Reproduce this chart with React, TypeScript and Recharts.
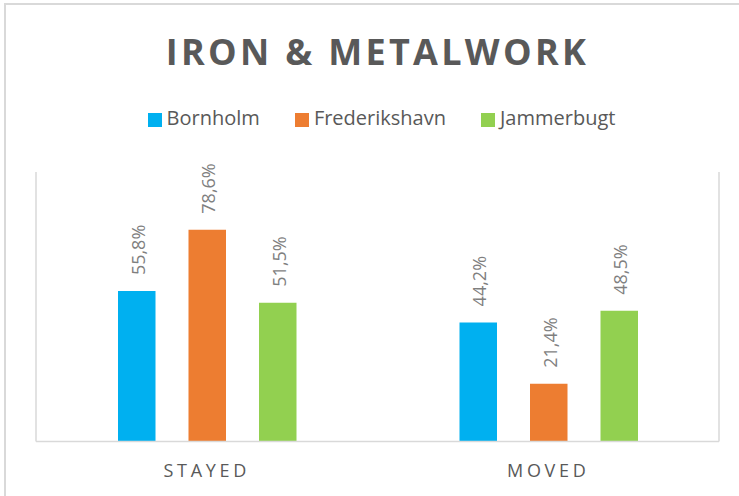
import React from 'react';
import { BarChart, Bar, XAxis, YAxis, ReferenceLine, LabelList } from 'recharts';

const categories = ['STAYED', 'MOVED'];
const bornholm = [55.8, 44.2];
const frederikshavn = [78.6, 21.4];
const jammerbugt = [51.5, 48.5];
const seriesNames = ['Bornholm', 'Frederikshavn', 'Jammerbugt'];
const seriesColors = ['#00b0f0', '#ed7d31', '#92d050'];
const gridBoundaries = [0, 1, 2];
const title = 'IRON & METALWORK';

const data = categories.map((c, i) => ({
  name: c,
  Bornholm: bornholm[i],
  Frederikshavn: frederikshavn[i],
  Jammerbugt: jammerbugt[i],
}));

const FONT = '"Open Sans", sans-serif';

const fmt = (v: number) => v.toFixed(1).replace('.', ',') + '%';

const renderLabel = (props: any) => {
  const { x, y, width, value } = props;
  const cx = Number(x) + Number(width) / 2;
  const cy = Number(y) - 16;
  return (
    <text
      x={cx}
      y={cy}
      dy={8}
      transform={`rotate(-90 ${cx} ${cy})`}
      textAnchor="start"
      fontSize={18}
      fill="#7f7f7f"
      fontFamily={FONT}
    >
      {fmt(Number(value))}
    </text>
  );
};

const renderTick = (props: any) => {
  const { x, y, payload } = props;
  return (
    <text
      x={x}
      y={Number(y) + 35.5}
      textAnchor="middle"
      fontSize={18}
      fill="#595959"
      fontFamily={FONT}
      letterSpacing={3.7}
    >
      {payload.value}
    </text>
  );
};

export default function App() {
  return (
    <div
      style={{
        position: 'absolute',
        left: 0,
        top: 0,
        width: 739,
        height: 496,
        overflow: 'hidden',
        background: '#fff',
      }}
    >
      <BarChart
        width={739}
        height={496}
        data={data}
        margin={{ top: 172, right: 20, bottom: 24.5, left: 36 }}
        barSize={37.5}
        barGap={33}
      >
        <XAxis
          xAxisId="cat"
          dataKey="name"
          height={30}
          axisLine={{ stroke: '#d9d9d9', strokeWidth: 1.5 }}
          tickLine={false}
          tickSize={0}
          tickMargin={0}
          tick={renderTick}
          interval={0}
        />
        <XAxis xAxisId="grid" type="number" domain={[0, 2]} hide allowDataOverflow />
        <YAxis domain={[0, 100]} hide />
        {gridBoundaries.map((b) => (
          <ReferenceLine key={b} xAxisId="grid" x={b} stroke="#d9d9d9" strokeWidth={1.5} />
        ))}
        {seriesNames.map((s, i) => (
          <Bar key={s} xAxisId="cat" dataKey={s} fill={seriesColors[i]} isAnimationActive={false}>
            <LabelList dataKey={s} content={renderLabel} />
          </Bar>
        ))}
      </BarChart>
      <svg
        width={739}
        height={496}
        style={{ position: 'absolute', left: 0, top: 0, pointerEvents: 'none' }}
      >
        <path d="M5 496 V4 H739" fill="none" stroke="#d9d9d9" strokeWidth={2} />
        <text
          x={377.5}
          y={65}
          textAnchor="middle"
          fontSize={36}
          fontWeight="bold"
          fill="#595959"
          fontFamily={FONT}
          letterSpacing={3.3}
        >
          {title}
        </text>
      </svg>
      <div
        style={{
          position: 'absolute',
          left: 0,
          top: 108,
          width: 739,
          paddingLeft: 24,
          boxSizing: 'border-box',
          display: 'flex',
          justifyContent: 'center',
          alignItems: 'center',
          fontFamily: FONT,
          fontSize: 20,
          lineHeight: '20px',
          color: '#595959',
        }}
      >
        {seriesNames.map((s, i) => (
          <div
            key={s}
            style={{
              display: 'flex',
              alignItems: 'center',
              marginLeft: i === 0 ? 0 : 35,
            }}
          >
            <div
              style={{
                width: 14,
                height: 14,
                background: seriesColors[i],
                marginRight: 5,
                marginTop: 3,
              }}
            />
            <span>{s}</span>
          </div>
        ))}
      </div>
    </div>
  );
}
